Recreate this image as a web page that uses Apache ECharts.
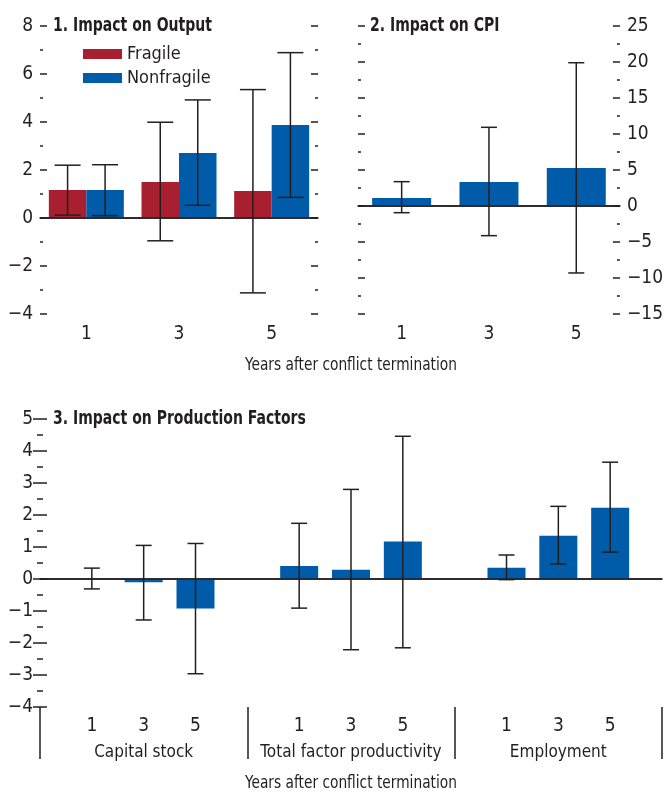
<!DOCTYPE html>
<html>
<head>
<meta charset="utf-8">
<script src="https://cdn.jsdelivr.net/npm/echarts@6/dist/echarts.min.js"></script>
<style>
    html, body {margin: 0; padding: 0; background: #fff;}
    #chart {width: 666px; height: 793px;}
</style>
</head>
<body>
<div id="chart"></div>
<script>
// panel 1 & 2 categories
var years = ['1', '3', '5'];

// 1. Impact on Output
var outputFragile = [1.17, 1.5, 1.12];
var outputFragileLow = [0.12, -0.95, -3.12];
var outputFragileHigh = [2.2, 3.99, 5.35];
var outputNonfragile = [1.17, 2.71, 3.88];
var outputNonfragileLow = [0.1, 0.53, 0.86];
var outputNonfragileHigh = [2.22, 4.92, 6.89];

// 2. Impact on CPI
var cpi = [1.11, 3.33, 5.28];
var cpiLow = [-0.93, -4.12, -9.3];
var cpiHigh = [3.38, 10.93, 19.9];

// 3. Impact on Production Factors (x positions on a 0..12 scale, groups of 4)
var factorGroups = ['Capital stock', 'Total factor productivity', 'Employment'];
var factorPos = [1, 2, 3, 5, 6, 7, 9, 10, 11];
var factorYears = ['1', '3', '5', '1', '3', '5', '1', '3', '5'];
var factorValues = [0.0, -0.1, -0.92, 0.41, 0.29, 1.17, 0.35, 1.35, 2.23];
var factorLow = [-0.31, -1.28, -2.96, -0.91, -2.21, -2.15, -0.02, 0.47, 0.84];
var factorHigh = [0.34, 1.05, 1.11, 1.74, 2.8, 4.46, 0.75, 2.27, 3.65];

var RED = '#a8202f';
var BLUE = '#005ca8';
var INK = '#231f20';
var FONT = '"Liberation Sans Narrow", "DejaVu Sans Condensed", "Roboto", sans-serif';

function minus (v){
    return String(v).replace('-', '\u2212');
}

// vertical whisker with caps, shifted by offset px
function errorBar (offset, cap){
    return function (params, api){
        var x = api.value(0);
        var lo = api.coord([x, api.value(1)]);
        var hi = api.coord([x, api.value(2)]);
        var cx = lo[0] + offset;
        var style = {stroke: INK, lineWidth: 1.5};
        return {
            type: 'group',
            children: [
                {type: 'line', shape: {x1: cx, y1: lo[1], x2: cx, y2: hi[1]}, style: style},
                {type: 'line', shape: {x1: cx - cap / 2, y1: lo[1], x2: cx + cap / 2, y2: lo[1]}, style: style},
                {type: 'line', shape: {x1: cx - cap / 2, y1: hi[1], x2: cx + cap / 2, y2: hi[1]}, style: style}
            ]
        };
    };
}

function zip3 (xs, lo, hi){
    return lo.map(function (v, i){
        return [xs[i], v, hi[i]];
    });
}

function valueAxis (gridIndex, min, max, interval, position, showLabel){
    return {
        type: 'value',
        gridIndex: gridIndex,
        position: position,
        min: min,
        max: max,
        interval: interval,
        axisLine: {show: false},
        axisTick: {show: true, inside: true, length: 7, lineStyle: {color: INK, width: 1.5}},
        minorTick: {show: true, splitNumber: 2, length: 3, lineStyle: {color: INK, width: 1.5}},
        splitLine: {show: false},
        axisLabel: {
            show: showLabel,
            margin: 7,
            color: INK,
            fontSize: 19,
            fontFamily: FONT,
            formatter: minus
        }
    };
}

var zeroLine = {
    silent: true,
    symbol: 'none',
    label: {show: false},
    lineStyle: {color: INK, width: 1.5, type: 'solid'},
    data: [{yAxis: 0}]
};

var labelStyle = {color: INK, fontSize: 19, fontFamily: FONT};

function title (text, x, y){
    return {
        type: 'text', x: x, y: y, scaleX: 0.82,
        style: {text: text, fill: INK, font: 'bold 19px ' + FONT, verticalAlign: 'middle'}
    };
}

function axisName (y){
    return {
        type: 'text', x: 351, y: y, scaleX: 0.85,
        style: {text: 'Years after conflict termination', fill: INK, font: '18px ' + FONT, align: 'center', verticalAlign: 'middle'}
    };
}

var option = {
    animation: false,
    grid: [
        {left: 40, right: 348, top: 26, bottom: 479},
        {left: 358, right: 41, top: 26, bottom: 479},
        {left: 40, right: 4, top: 419, bottom: 86}
    ],
    xAxis: [
        {
            type: 'category', gridIndex: 0, data: years,
            axisLine: {lineStyle: {color: INK, width: 1.5}},
            axisTick: {show: false},
            axisLabel: Object.assign({margin: 11}, labelStyle)
        },
        {
            type: 'category', gridIndex: 1, data: years,
            axisLine: {lineStyle: {color: INK, width: 1.5}},
            axisTick: {show: false},
            axisLabel: Object.assign({margin: 11}, labelStyle)
        },
        {
            type: 'value', gridIndex: 2, position: 'bottom', offset: 0,
            min: 0, max: 12, interval: 1,
            axisLine: {lineStyle: {color: INK, width: 1.5}},
            axisTick: {show: false},
            splitLine: {show: false},
            axisLabel: Object.assign({
                margin: 10,
                formatter: function (v){
                    var i = factorPos.indexOf(v);
                    return i >= 0 ? factorYears[i] : '';
                }
            }, labelStyle)
        },
        {
            // group names under each block of three
            type: 'value', gridIndex: 2, position: 'bottom', offset: 0,
            min: 0, max: 12, interval: 2,
            axisLine: {show: false},
            axisTick: {show: false},
            splitLine: {show: false},
            axisLabel: {
                margin: 37,
                color: INK,
                fontSize: 17,
                fontFamily: FONT,
                formatter: function (v){
                    return v % 4 === 2 ? factorGroups[(v - 2) / 4] : '';
                }
            }
        },
        {
            // separators between groups
            type: 'value', gridIndex: 2, position: 'bottom', offset: 0,
            min: 0, max: 12, interval: 4,
            axisLine: {show: false},
            axisTick: {show: true, length: 52, lineStyle: {color: INK, width: 1.5}},
            splitLine: {show: false},
            axisLabel: {show: false}
        }
    ],
    yAxis: [
        valueAxis(0, -4, 8, 2, 'left', true),
        valueAxis(0, -4, 8, 2, 'right', false),
        valueAxis(1, -15, 25, 5, 'left', false),
        valueAxis(1, -15, 25, 5, 'right', true),
        valueAxis(2, -4, 5, 1, 'left', true),
        valueAxis(2, -4, 5, 1, 'right', false)
    ],
    legend: {
        left: 83,
        top: 45,
        orient: 'vertical',
        icon: 'rect',
        itemWidth: 39,
        itemHeight: 10,
        itemGap: 6,
        padding: 0,
        data: ['Fragile', 'Nonfragile'],
        textStyle: {color: INK, fontSize: 18, fontFamily: FONT}
    },
    graphic: [
        title('1. Impact on Output', 53, 26),
        title('2. Impact on CPI', 370, 26),
        title('3. Impact on Production Factors', 53, 419),
        axisName(365),
        axisName(783)
    ],
    series: [
        {
            name: 'Fragile', type: 'bar', xAxisIndex: 0, yAxisIndex: 0,
            barWidth: 37.5, barGap: '0%',
            itemStyle: {color: RED},
            data: outputFragile,
            markLine: zeroLine
        },
        {
            name: 'Nonfragile', type: 'bar', xAxisIndex: 0, yAxisIndex: 0,
            barWidth: 37.5, barGap: '0%',
            itemStyle: {color: BLUE},
            data: outputNonfragile
        },
        {
            type: 'custom', xAxisIndex: 0, yAxisIndex: 0,
            renderItem: errorBar(-18.75, 26),
            data: zip3([0, 1, 2], outputFragileLow, outputFragileHigh),
            z: 5
        },
        {
            type: 'custom', xAxisIndex: 0, yAxisIndex: 0,
            renderItem: errorBar(18.75, 26),
            data: zip3([0, 1, 2], outputNonfragileLow, outputNonfragileHigh),
            z: 5
        },
        {
            type: 'bar', xAxisIndex: 1, yAxisIndex: 3,
            barWidth: 59,
            itemStyle: {color: BLUE},
            data: cpi,
            markLine: zeroLine
        },
        {
            type: 'custom', xAxisIndex: 1, yAxisIndex: 3,
            renderItem: errorBar(0, 16),
            data: zip3([0, 1, 2], cpiLow, cpiHigh),
            z: 5
        },
        {
            type: 'bar', xAxisIndex: 2, yAxisIndex: 4,
            barWidth: 38,
            itemStyle: {color: BLUE},
            data: factorValues.map(function (v, i){
                return [factorPos[i], v];
            }),
            markLine: zeroLine
        },
        {
            type: 'custom', xAxisIndex: 2, yAxisIndex: 4,
            renderItem: errorBar(0, 16),
            data: zip3(factorPos, factorLow, factorHigh),
            z: 5
        }
    ]
};

var chart = echarts.init(document.getElementById('chart'));
chart.setOption(option);
</script>
</body>
</html>
